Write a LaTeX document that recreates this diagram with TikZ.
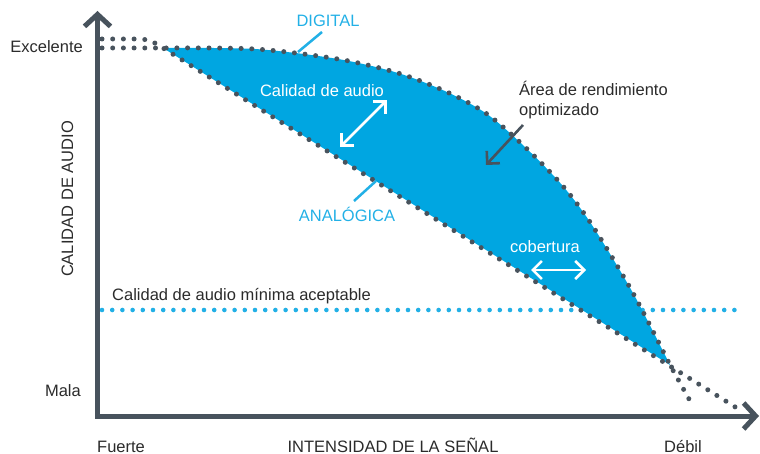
\documentclass[tikz,border=0pt]{standalone}
\usepackage{fontspec}
\setmainfont{Liberation Sans}
\usetikzlibrary{arrows.meta}
\definecolor{ink}{HTML}{48535D}
\definecolor{band}{HTML}{00A6E1}
\definecolor{cyanlab}{HTML}{22B0E6}
\definecolor{txt}{HTML}{2B2B2B}
\tikzset{
  axisline/.style={draw=ink, line width=5pt, line join=miter,
    {Straight Barb[length=12pt,width=26pt]}-{Straight Barb[length=12pt,width=26pt]}},
  curve/.style={draw=ink, line width=5pt, line cap=round, dash pattern=on 0pt off 10.7pt},
  minline/.style={draw=cyanlab, line width=4.6pt, line cap=round, dash pattern=on 0pt off 10.2pt},
  warrow/.style={draw=white, line width=2.6pt,
    {Straight Barb[length=9pt,width=18pt]}-{Straight Barb[length=9pt,width=18pt]}},
  darrow/.style={draw=ink, line width=2.6pt, -{Straight Barb[length=9pt,width=18pt]}},
  leader/.style={draw=cyanlab, line width=2.5pt},
  lbl/.style={text=txt, inner sep=0pt, anchor=base}
}
\begin{document}
\begin{tikzpicture}[x=1pt,y=-1pt, font=\fontsize{16.5}{20}\selectfont]
\useasboundingbox (0,0) rectangle (760,454);

% minimum acceptable line
\coordinate (m0) at (102,310);
\coordinate (m1) at (735,310);
\draw[minline] (m0) -- (m1);

% optimized area
\fill[band] plot[smooth] coordinates {(163,48) (255,49) (338,59) (398,73) (447,92) (487,114) (525,147) (562,185) (592,225) (633,293) (670,365)} -- cycle;

% leaders
\coordinate (dgA) at (322,32);
\coordinate (dgB) at (298,52);
\draw[leader] (dgA) -- (dgB);
\coordinate (anA) at (354,201);
\coordinate (anB) at (376,181);
\draw[leader] (anA) -- (anB);

% curves
\draw[curve] (102,48) -- plot[smooth] coordinates {(163,48) (255,49) (338,59) (398,73) (447,92) (487,114) (525,147) (562,185) (592,225) (633,293) (670,365)} -- (694,408);
\draw[curve] (102,39) -- (138,39) .. controls (150,39) and (155,43) .. (163,48) -- (740,410);

% axes
\coordinate (O) at (97.5,416);
\coordinate (Ytip) at (97.5,11);
\coordinate (Xtip) at (759,416);
\draw[axisline] (Ytip) -- (O) -- (Xtip);

% labels
\node[lbl, anchor=base east] (exc) at (83,53) {Excelente};
\node[lbl, anchor=base east] (mala) at (81,396) {Mala};
\node[lbl, anchor=base west] (fuerte) at (97,452) {Fuerte};
\node[lbl] (xlab) at (393,452) {INTENSIDAD DE LA SEÑAL};
\node[lbl] (debil) at (683,452) {Débil};
\node[lbl, rotate=90] (ylab) at (73,199) {CALIDAD DE AUDIO};
\node[lbl, text=cyanlab] (dig) at (328,27) {DIGITAL};
\node[lbl, text=cyanlab] (ana) at (347,222) {ANALÓGICA};
\node[lbl, text=white] (cal) at (322,97) {Calidad de audio};
\node[lbl, anchor=base west] (ar1) at (519,96) {Área de rendimiento};
\node[lbl, anchor=base west] (ar2) at (519,116) {optimizado};
\node[lbl, text=white] (cob) at (545,253) {cobertura};
\node[lbl, anchor=base west] (minlab) at (112,301) {Calidad de audio mínima aceptable};

% arrows
\coordinate (q1) at (340,147);
\coordinate (q2) at (387,100);
\draw[warrow] (q1) -- (q2);
\coordinate (c1) at (531,270);
\coordinate (c2) at (586,270);
\draw[warrow] (c1) -- (c2);
\coordinate (r1) at (523,125);
\coordinate (r2) at (486,165);
\draw[darrow] (r1) -- (r2);
\end{tikzpicture}
\end{document}
